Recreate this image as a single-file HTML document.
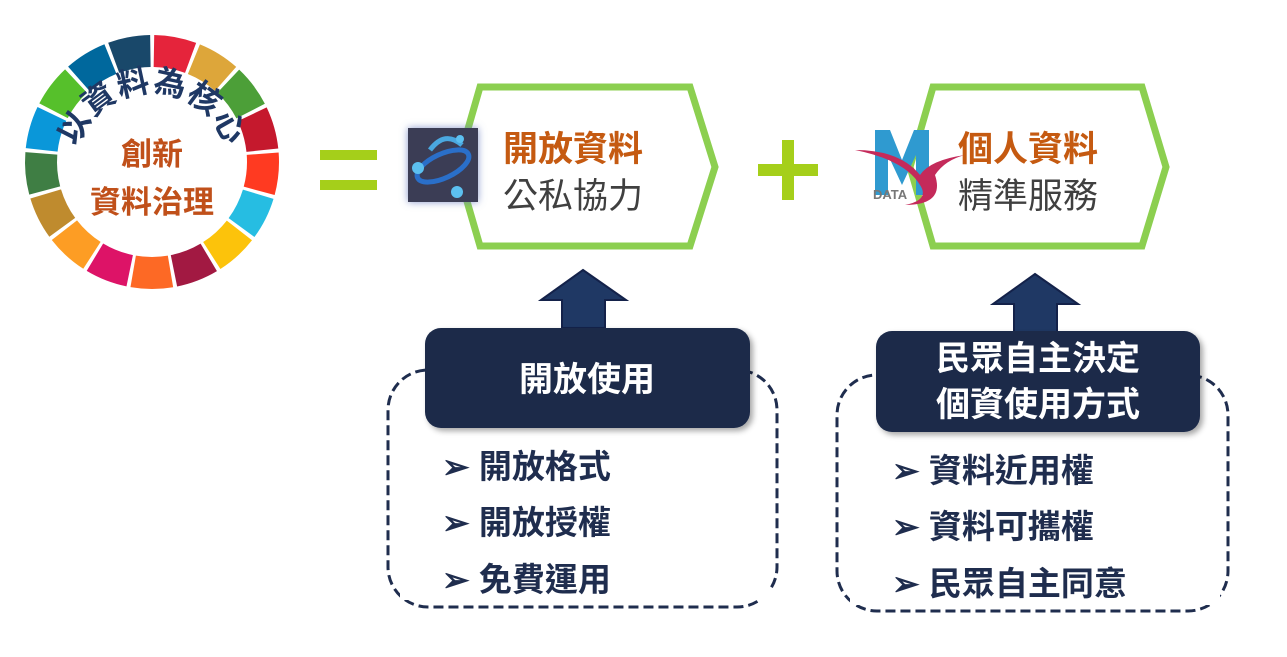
<!DOCTYPE html>
<html><head><meta charset="utf-8"><style>
body{margin:0;background:#fff;}
svg{display:block;font-family:"Liberation Sans","Noto Sans CJK TC",sans-serif;}
</style></head><body>
<svg width="1287" height="657" viewBox="0 0 1287 657">
<defs>
<filter id="sh" x="-10%" y="-10%" width="130%" height="130%"><feDropShadow dx="3" dy="3" stdDeviation="3" flood-color="#000" flood-opacity="0.35"/></filter>
<filter id="gl" x="-30%" y="-30%" width="160%" height="160%"><feDropShadow dx="0" dy="0" stdDeviation="4" flood-color="#6a7fc0" flood-opacity="0.8"/></filter>
<path id="arc" d="M 76 188 A 78 78 0 1 1 228 188"/>
</defs>
<g fill="none" stroke-width="32" stroke-dasharray="37.5 659.9">
<circle cx="152" cy="162" r="111" stroke="#e5243b" transform="rotate(-89 152 162)"/>
<circle cx="152" cy="162" r="111" stroke="#dda63a" transform="rotate(-67.82 152 162)"/>
<circle cx="152" cy="162" r="111" stroke="#4c9f38" transform="rotate(-46.65 152 162)"/>
<circle cx="152" cy="162" r="111" stroke="#c5192d" transform="rotate(-25.47 152 162)"/>
<circle cx="152" cy="162" r="111" stroke="#ff3a21" transform="rotate(-4.29 152 162)"/>
<circle cx="152" cy="162" r="111" stroke="#26bde2" transform="rotate(16.88 152 162)"/>
<circle cx="152" cy="162" r="111" stroke="#fcc30b" transform="rotate(38.06 152 162)"/>
<circle cx="152" cy="162" r="111" stroke="#a21942" transform="rotate(59.24 152 162)"/>
<circle cx="152" cy="162" r="111" stroke="#fd6925" transform="rotate(80.41 152 162)"/>
<circle cx="152" cy="162" r="111" stroke="#dd1367" transform="rotate(101.59 152 162)"/>
<circle cx="152" cy="162" r="111" stroke="#fd9d24" transform="rotate(122.76 152 162)"/>
<circle cx="152" cy="162" r="111" stroke="#bf8b2e" transform="rotate(143.94 152 162)"/>
<circle cx="152" cy="162" r="111" stroke="#3f7e44" transform="rotate(165.12 152 162)"/>
<circle cx="152" cy="162" r="111" stroke="#0a97d9" transform="rotate(186.29 152 162)"/>
<circle cx="152" cy="162" r="111" stroke="#56c02b" transform="rotate(207.47 152 162)"/>
<circle cx="152" cy="162" r="111" stroke="#00689d" transform="rotate(228.65 152 162)"/>
<circle cx="152" cy="162" r="111" stroke="#19486a" transform="rotate(249.82 152 162)"/>
</g>
<text font-size="32" font-weight="bold" fill="#1f3864"><textPath href="#arc" startOffset="50%" text-anchor="middle" letter-spacing="1">以資料為核心</textPath></text>
<text x="152" y="165" font-size="31" font-weight="bold" fill="#c0501a" text-anchor="middle">創新</text>
<text x="152" y="213" font-size="31" font-weight="bold" fill="#c0501a" text-anchor="middle">資料治理</text>
<rect x="320" y="150" width="57" height="10" fill="#a5cf1a"/>
<rect x="320" y="180" width="57" height="10" fill="#a5cf1a"/>
<rect x="758" y="164" width="60" height="12" fill="#a5cf1a"/>
<rect x="782" y="140" width="12" height="60" fill="#a5cf1a"/>
<polygon points="480,87 690,87 715,167 690,246 480,246 457,167" fill="#fff" stroke="#8ccf50" stroke-width="7"/>
<polygon points="933,87 1142,87 1166,167 1142,246 933,246 910,167" fill="#fff" stroke="#8ccf50" stroke-width="7"/>
<rect x="408" y="128" width="70" height="74" fill="#3b3e54" filter="url(#gl)"/>
<ellipse cx="443" cy="166" rx="28" ry="12" fill="none" stroke="#2a6fc9" stroke-width="5" transform="rotate(-25 443 166)"/>
<path d="M430 150 Q445 130 462 145" stroke="#4aa8e0" stroke-width="5" fill="none"/>
<circle cx="418" cy="168" r="6" fill="#5cc0f0"/><circle cx="457" cy="192" r="6" fill="#5cc0f0"/><circle cx="460" cy="139" r="4" fill="#5cc0f0"/>
<text x="503" y="161" font-size="35" font-weight="bold" fill="#c55a11">開放資料</text>
<text x="503" y="208" font-size="35" fill="#404040">公私協力</text>
<path d="M875 130 h15 l12 30 l12 -30 h15 v65 h-13 v-40 l-14 30 l-14 -30 v40 h-13z" fill="#2f9ad0"/>
<path d="M855 150 Q905 160 920 185 Q930 200 905 205 Q945 205 935 175 Q945 160 965 155 Q930 160 920 175 Q900 150 855 150z" fill="#c42a5a"/>
<text x="873" y="199" font-size="13" font-weight="bold" fill="#777">DATA</text>
<text x="958" y="161" font-size="35" font-weight="bold" fill="#c55a11">個人資料</text>
<text x="958" y="208" font-size="35" fill="#404040">精準服務</text>
<rect x="388" y="370" width="389" height="237" rx="40" fill="none" stroke="#1f2d4e" stroke-width="3" stroke-dasharray="10 5"/>
<rect x="837" y="375" width="391" height="236" rx="40" fill="none" stroke="#1f2d4e" stroke-width="3" stroke-dasharray="10 5"/>
<rect x="400" y="440" width="370" height="160" fill="#fff"/>
<rect x="850" y="445" width="370" height="160" fill="#fff"/>
<polygon points="583,270 626,300 605,300 605,328 562,328 562,300 541,300" fill="#1f3864" stroke="#14224a" stroke-width="2"/>
<polygon points="1035,274 1078,304 1057,304 1057,332 1014,332 1014,304 993,304" fill="#1f3864" stroke="#14224a" stroke-width="2"/>
<rect x="425" y="328" width="325" height="100" rx="16" fill="#1b2a4a" filter="url(#sh)"/>
<rect x="876" y="331" width="324" height="101" rx="16" fill="#1b2a4a" filter="url(#sh)"/>
<g font-size="34" font-weight="bold" fill="#fff" text-anchor="middle">
<text x="587" y="391">開放使用</text>
<text x="1038" y="370">民眾自主決定</text>
<text x="1038" y="416">個資使用方式</text>
</g>
<g font-size="33" font-weight="bold" fill="#1f2d4e">
<text x="442" y="478">➢ 開放格式</text>
<text x="442" y="534">➢ 開放授權</text>
<text x="442" y="591">➢ 免費運用</text>
<text x="892" y="482">➢ 資料近用權</text>
<text x="892" y="538">➢ 資料可攜權</text>
<text x="892" y="595">➢ 民眾自主同意</text>
</g>
</svg>
</body></html>
